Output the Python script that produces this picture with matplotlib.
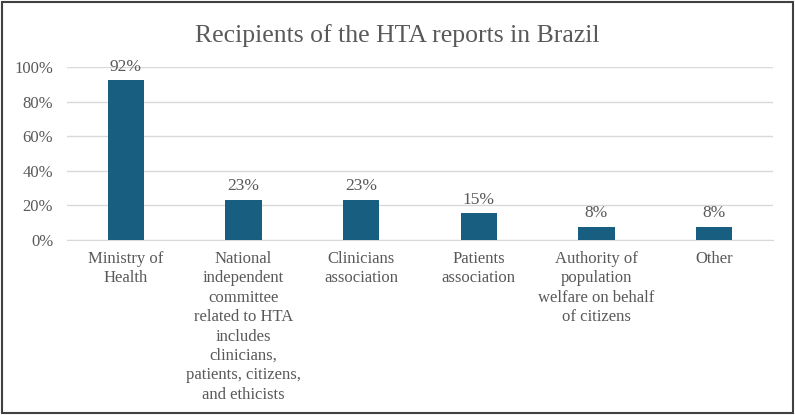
import matplotlib.pyplot as plt
from matplotlib.patches import Rectangle

categories = ["Ministry of\nHealth",
              "National\nindependent\ncommittee\nrelated to HTA\nincludes\nclinicians,\npatients, citizens,\nand ethicists",
              "Clinicians\nassociation",
              "Patients\nassociation",
              "Authority of\npopulation\nwelfare on behalf\nof citizens",
              "Other"]
values = [92.3, 23.1, 23.1, 15.4, 7.7, 7.7]
labels = ["92%", "23%", "23%", "15%", "8%", "8%"]
yticks = [0, 20, 40, 60, 80, 100]

bar_color = "#175e80"
text_color = "#595959"
grid_color = "#d9d9d9"

plt.rcParams['font.family'] = ['Liberation Serif', 'DejaVu Serif']

fig = plt.figure(figsize=(7.95, 4.15), dpi=100)
ax = fig.add_axes([0.0843, 0.4217, 0.888, 0.4169])

xs = list(range(len(categories)))
ax.bar(xs, values, width=0.31, color=bar_color, zorder=3)
for x, v, lab in zip(xs, values, labels):
    ax.annotate(lab, (x, v), xytext=(0, 4), textcoords="offset points",
                ha="center", va="bottom", fontsize=12.5, color=text_color)

ax.set_xlim(-0.5, len(categories) - 0.5)
ax.set_ylim(0, 100)
ax.set_yticks(yticks)
ax.set_yticklabels([f"{t}%" for t in yticks])
ax.set_xticks(xs)
ax.set_xticklabels(categories, linespacing=1.28)
ax.tick_params(axis="both", length=0, labelsize=12, labelcolor=text_color)
ax.tick_params(axis="x", pad=8)
ax.tick_params(axis="y", pad=10)
ax.grid(axis="y", color=grid_color, linewidth=1, zorder=0)
for s in ["top", "right", "left"]:
    ax.spines[s].set_visible(False)
ax.spines["bottom"].set_color(grid_color)

fig.text(0.5, 0.915, "Recipients of the HTA reports in Brazil", ha="center",
         va="center", fontsize=18.5, color=text_color)

fig.patches.append(Rectangle((0.003, 0.005), 0.994, 0.99, transform=fig.transFigure,
                             fill=False, edgecolor="#404040", linewidth=1.5))

fig.savefig("out.png", dpi=100)
